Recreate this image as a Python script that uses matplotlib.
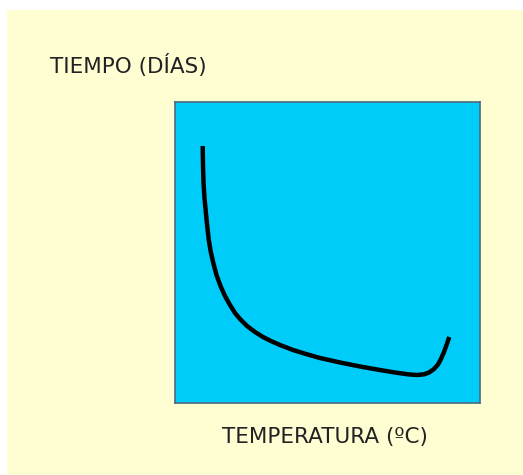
import matplotlib
matplotlib.use("Agg")
import matplotlib.pyplot as plt
from matplotlib.patches import Rectangle

# curve (axes units 0-100)
temp = [9.08, 9.18, 9.34, 9.67, 10.10, 10.56, 11.08, 11.74, 12.56, 13.61, 14.92, 16.39,
        18.03, 19.67, 21.31, 23.61, 26.23, 28.85, 31.80, 34.43, 38.69, 42.95, 47.54,
        54.10, 60.66, 67.21, 72.13, 76.39, 79.34, 81.64, 83.28, 84.92, 86.23, 87.21,
        88.20, 89.02, 89.93]
dias = [85.38, 79.07, 73.42, 68.11, 63.46, 58.80, 54.15, 50.17, 46.51, 42.52, 38.87, 35.55,
        32.56, 29.90, 27.91, 25.58, 23.59, 21.93, 20.43, 19.27, 17.61, 16.28, 14.95,
        13.46, 12.13, 10.96, 10.13, 9.53, 9.30, 9.53, 10.13, 11.30, 12.79, 14.62,
        16.94, 19.27, 21.93]

plt.rcParams['font.family'] = ['DejaVu Sans']

fig = plt.figure(figsize=(5.23, 4.75), dpi=100)
fig.patch.set_facecolor("white")
# pale yellow page with a small white margin top/left
bg = Rectangle((7/523, 0), 1, 1 - 10/475, transform=fig.transFigure,
               facecolor="#FFFDD2", edgecolor="none", zorder=-10)
fig.add_artist(bg)

ax = fig.add_axes([175/523, 72/475, 305/523, 301/475])
ax.set_zorder(5)
ax.set_facecolor("#00CCFA")
ax.plot(temp, dias, color="black", lw=3.2, solid_capstyle="butt", solid_joinstyle="round")
ax.set_xlim(0, 100)
ax.set_ylim(0, 100)
ax.set_xticks([])
ax.set_yticks([])
for s in ax.spines.values():
    s.set_color("#4A6A80")
    s.set_linewidth(1.2)

fig.text(50/523, 1 - 65/475, "TIEMPO (DÍAS)", fontsize=15.5, color="#222222",
         ha="left", va="center")
fig.text(222/523, 1 - 437/475, "TEMPERATURA (ºC)", fontsize=15.5, color="#222222",
         ha="left", va="center")

fig.savefig("out.png", dpi=100)
